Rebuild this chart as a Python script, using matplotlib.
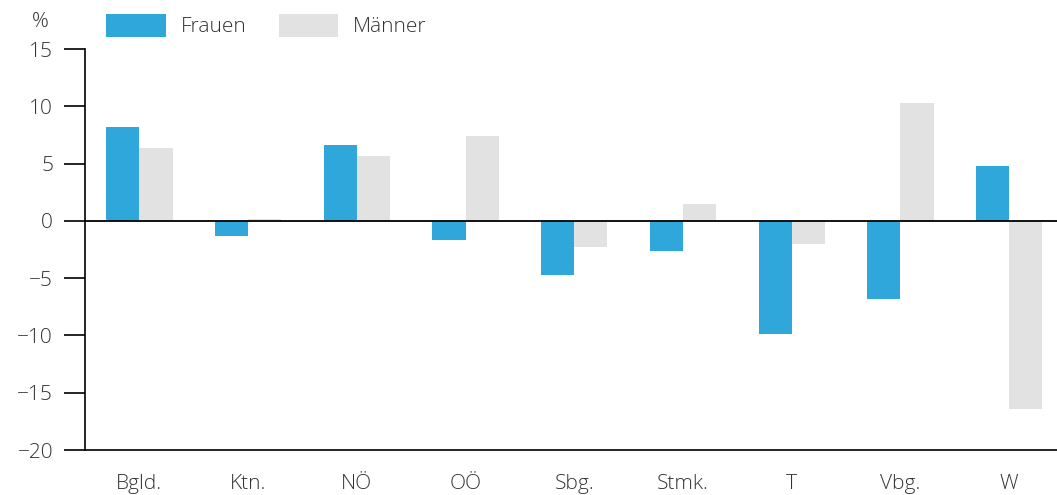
import matplotlib.pyplot as plt
import numpy as np

plt.rcParams["font.family"] = ["Open Sans", "DejaVu Sans"]

regions = ["Bgld.", "Ktn.", "NÖ", "OÖ", "Sbg.", "Stmk.", "T", "Vbg.", "W"]
frauen = [8.2, -1.3, 6.6, -1.7, -4.7, -2.6, -9.9, -6.8, 4.8]
maenner = [6.4, 0.2, 5.7, 7.4, -2.3, 1.5, -2.0, 10.3, -16.4]
yticks = [15, 10, 5, 0, -5, -10, -15, -20]

BLUE = "#2FA7DB"
GREY = "#E2E2E2"
TEXT = "#333333"
FS = 15

fig = plt.figure(figsize=(10.57, 4.95), dpi=100)
ax = fig.add_axes([0.0804, 0.0909, 0.9196, 0.8101])

x = np.arange(len(regions))
w = 0.305
ax.bar(x - w / 2, frauen, w, color=BLUE, label="Frauen", zorder=2)
ax.bar(x + w / 2, maenner, w, color=GREY, label="Männer", zorder=2)

ax.axhline(0, color="black", lw=1.3, zorder=3)
ax.set_xlim(-0.5, len(regions) - 0.56)
ax.set_ylim(-20, 15)
ax.set_yticks(yticks)
ax.set_yticklabels([str(t).replace("-", "\u2212") for t in yticks])
ax.set_xticks(x)
ax.set_xticklabels(regions)

for side in ["top", "right"]:
    ax.spines[side].set_visible(False)
ax.spines["left"].set_linewidth(1.2)
ax.spines["bottom"].set_linewidth(1.2)
ax.tick_params(axis="y", length=15, width=1.2, labelsize=FS, pad=8)
ax.tick_params(axis="x", length=0, labelsize=FS, pad=17)
for t in ax.get_yticklabels() + ax.get_xticklabels():
    t.set_color(TEXT)
    t.set_fontweight("light")

fig.text(0.038, 0.955, "%", fontsize=FS, color=TEXT, ha="center", va="center",
         fontweight="light")

leg = fig.legend(loc="center left", bbox_to_anchor=(0.083, 0.948), ncol=2,
                 frameon=False, fontsize=FS, handlelength=2.84, handleheight=1.3,
                 handletextpad=0.72, columnspacing=1.55, labelcolor=TEXT)
for t in leg.get_texts():
    t.set_fontweight("light")

fig.savefig("out.png", dpi=100)
